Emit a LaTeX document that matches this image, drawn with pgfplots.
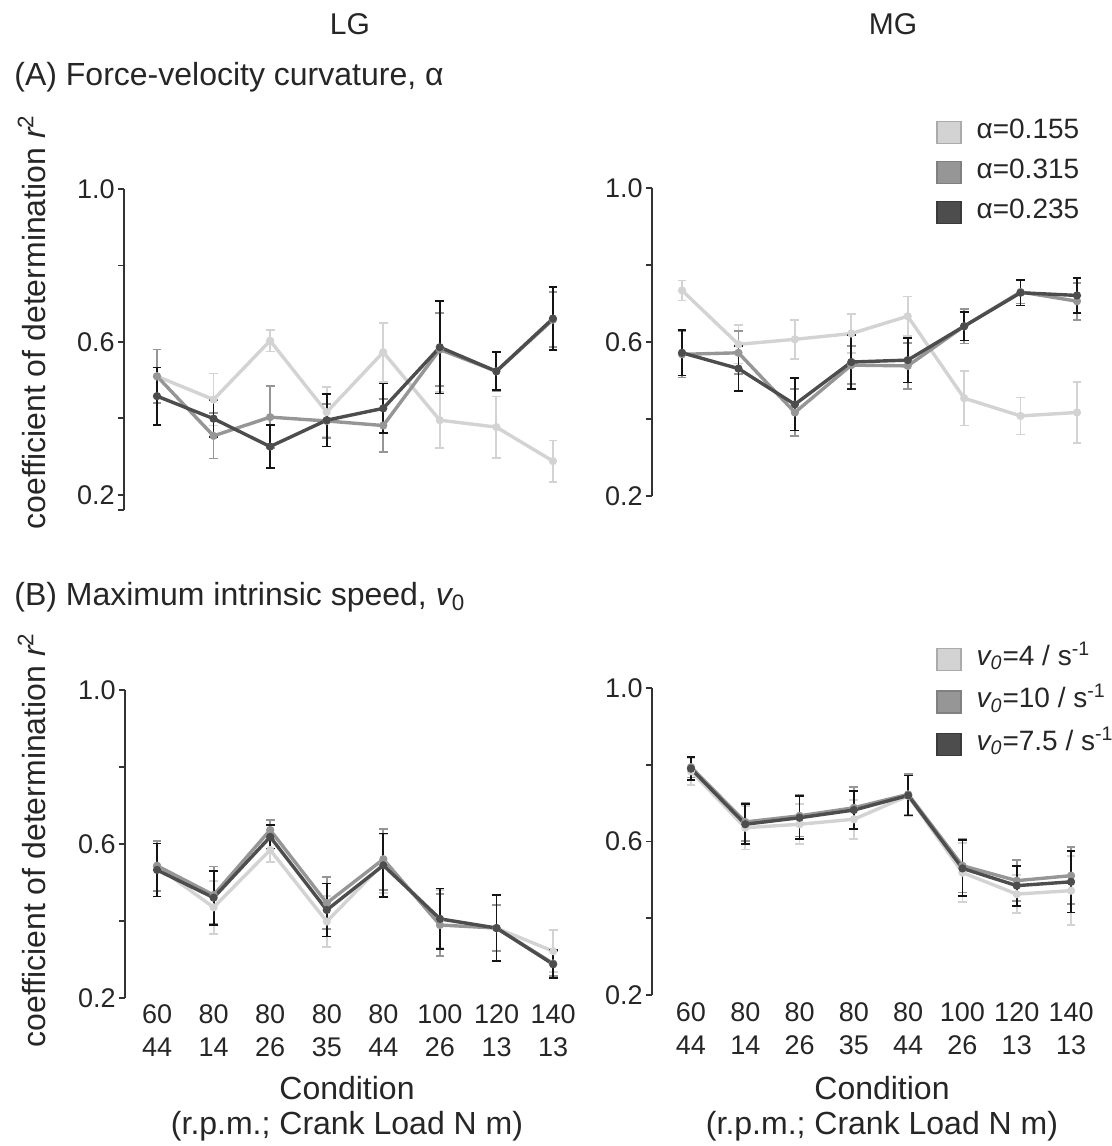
\documentclass[border=0pt]{standalone}
\usepackage{fontspec}
\setmainfont{Liberation Sans}
\usepackage{pgfplots}
\pgfplotsset{compat=1.18}

\definecolor{cL}{HTML}{D3D3D3}
\definecolor{cM}{HTML}{969696}
\definecolor{cD}{HTML}{4D4D4D}
\definecolor{cE}{HTML}{141414}
\definecolor{cLb}{HTML}{ABABAB}
\definecolor{cMb}{HTML}{808080}
\definecolor{cDb}{HTML}{3A3A3A}
\definecolor{axc}{HTML}{333333}
\definecolor{txt}{HTML}{262626}

\newcommand{\tfont}{\fontsize{13.5bp}{16.5bp}\selectfont}
\newcommand{\bfont}{\fontsize{16bp}{17.3bp}\selectfont}

\pgfplotsset{
  panel/.style={
    scale only axis, anchor=south west, clip=false,
    axis y line*=left, axis x line*=bottom,
    x axis line style={draw=none},
    y axis line style={draw=axc, line width=0.8bp, -},
    xtick={1,...,8}, major x tick style={draw=none},
    ytick={0.2,0.4,0.6,0.8,1.0}, yticklabels={0.2,,0.6,,1.0},
    ytick align=outside, major tick length=3bp,
    major y tick style={draw=axc, line width=0.8bp},
    yticklabel style={font=\tfont, text=txt, inner sep=1.5bp},
    xticklabel style={font=\tfont, text=txt, align=center, inner sep=0pt,
      anchor=north, yshift=-3.5bp},
    legend cell align=left,
    legend style={draw=none, fill=none, inner sep=0pt, row sep=8bp,
      column sep=7.5bp, font=\fontsize{14bp}{15bp}\selectfont, text=txt,
      nodes={inner sep=0pt, text height=9bp, text depth=3bp}},
  },
  ser/.style 2 args={color=#1, line width=1.7bp, mark=*, mark size=1.8bp,
    mark options={fill=#1, draw=#1, line width=0.5bp},
    error bars/y dir=both, error bars/y explicit,
    error bars/error bar style={color=#2, line width=0.9bp},
    error bars/error mark options={rotate=90, mark size=2.2bp, line width=0.9bp, color=#2}},
  sq/.style 2 args={legend image code/.code={%
    \draw[fill=#1, draw=#2, line width=0.6bp] (0bp,-5.5bp) rectangle (12bp,5.5bp);}},
}

\begin{document}
\begin{tikzpicture}[every node/.append style={text=txt}]
\useasboundingbox (0,0) rectangle (556bp,-573bp);

% headings
\node[font=\fontsize{15bp}{16bp}\selectfont] at (175bp,-12bp) {LG};
\node[font=\fontsize{15bp}{16bp}\selectfont] at (446.5bp,-12bp) {MG};
\node[font=\bfont, anchor=west, inner sep=0pt] at (7bp,-38.5bp)
  {(A) Force-velocity curvature, α};
\node[font=\bfont, anchor=west, inner sep=0pt] at (7bp,-298.5bp)
  {(B) Maximum intrinsic speed, {\itshape v}\textsubscript{0}};
\node[font=\bfont, rotate=90] at (16bp,-161bp)
  {coefficient of determination {\itshape r}\textsuperscript{2}};
\node[font=\bfont, rotate=90] at (16bp,-420bp)
  {coefficient of determination {\itshape r}\textsuperscript{2}};
\node[font=\bfont, align=center] at (173.5bp,-554.5bp)
  {Condition\\(r.p.m.; Crank Load N m)};
\node[font=\bfont, align=center] at (441bp,-554.5bp)
  {Condition\\(r.p.m.; Crank Load N m)};

% (A) LG
\begin{axis}[panel, at={(62bp,-255bp)}, width=228.6bp, height=160.5bp,
  xmin=0.417, xmax=8.5, ymin=0.16, ymax=1.0, xticklabels={},
  ytick={0.16,0.4,0.6,0.8,1.0}, yticklabels={,,0.6,,1.0},
  extra y ticks={0.2}, extra y tick labels={0.2},
  extra y tick style={major tick style={draw=none}}]
\addplot+[ser={cL}{cL}] coordinates {
  (1,0.510) +- (0,0.070) (2,0.449) +- (0,0.068) (3,0.603) +- (0,0.028) (4,0.416) +- (0,0.065)
  (5,0.573) +- (0,0.077) (6,0.395) +- (0,0.073) (7,0.377) +- (0,0.080) (8,0.288) +- (0,0.054)};
\addplot+[ser={cM}{cM}] coordinates {
  (1,0.510) +- (0,0.070) (2,0.354) +- (0,0.059) (3,0.403) +- (0,0.081) (4,0.393) +- (0,0.045)
  (5,0.381) +- (0,0.070) (6,0.580) +- (0,0.095) (7,0.523) +- (0,0.052) (8,0.658) +- (0,0.072)};
\addplot+[ser={cD}{cE}] coordinates {
  (1,0.458) +- (0,0.075) (2,0.399) +- (0,0.049) (3,0.326) +- (0,0.057) (4,0.395) +- (0,0.069)
  (5,0.426) +- (0,0.065) (6,0.586) +- (0,0.121) (7,0.523) +- (0,0.050) (8,0.661) +- (0,0.082)};
\end{axis}

% (A) MG
\begin{axis}[panel, at={(326bp,-248bp)}, width=226.6bp, height=154bp,
  xmin=0.468, xmax=8.5, ymin=0.2, ymax=1.0, xticklabels={},
  legend style={at={(0.6267,1.2208)}, anchor=north west}]
\addplot+[forget plot, ser={cL}{cL}] coordinates {
  (1,0.734) +- (0,0.026) (2,0.594) +- (0,0.050) (3,0.607) +- (0,0.051) (4,0.622) +- (0,0.050)
  (5,0.667) +- (0,0.051) (6,0.454) +- (0,0.071) (7,0.408) +- (0,0.048) (8,0.417) +- (0,0.079)};
\addplot+[forget plot, ser={cM}{cM}] coordinates {
  (1,0.568) +- (0,0.060) (2,0.572) +- (0,0.056) (3,0.417) +- (0,0.061) (4,0.540) +- (0,0.050)
  (5,0.538) +- (0,0.060) (6,0.641) +- (0,0.045) (7,0.730) +- (0,0.030) (8,0.706) +- (0,0.048)};
\addplot+[forget plot, ser={cD}{cE}] coordinates {
  (1,0.572) +- (0,0.059) (2,0.531) +- (0,0.059) (3,0.438) +- (0,0.068) (4,0.548) +- (0,0.070)
  (5,0.553) +- (0,0.058) (6,0.641) +- (0,0.037) (7,0.728) +- (0,0.033) (8,0.721) +- (0,0.045)};
\addlegendimage{sq={cL}{cLb}}\addlegendentry{α=0.155}
\addlegendimage{sq={cM}{cMb}}\addlegendentry{α=0.315}
\addlegendimage{sq={cD}{cDb}}\addlegendentry{α=0.235}
\end{axis}

% (B) LG
\begin{axis}[panel, at={(62.5bp,-498.85bp)}, width=228.2bp, height=153.9bp,
  xmin=0.434, xmax=8.5, ymin=0.2, ymax=1.0,
  xticklabels={{60\\44},{80\\14},{80\\26},{80\\35},{80\\44},{100\\26},{120\\13},{140\\13}}]
\addplot+[ser={cL}{cL}] coordinates {
  (1,0.541) +- (0,0.065) (2,0.435) +- (0,0.069) (3,0.584) +- (0,0.032) (4,0.398) +- (0,0.067)
  (5,0.549) +- (0,0.076) (6,0.404) +- (0,0.075) (7,0.381) +- (0,0.060) (8,0.321) +- (0,0.055)};
\addplot+[ser={cM}{cM}] coordinates {
  (1,0.543) +- (0,0.065) (2,0.467) +- (0,0.074) (3,0.636) +- (0,0.025) (4,0.446) +- (0,0.067)
  (5,0.560) +- (0,0.079) (6,0.389) +- (0,0.080) (7,0.381) +- (0,0.060) (8,0.289) +- (0,0.032)};
\addplot+[ser={cD}{cE}] coordinates {
  (1,0.532) +- (0,0.069) (2,0.460) +- (0,0.070) (3,0.618) +- (0,0.030) (4,0.428) +- (0,0.069)
  (5,0.544) +- (0,0.083) (6,0.405) +- (0,0.079) (7,0.381) +- (0,0.086) (8,0.287) +- (0,0.036)};
\end{axis}

% (B) MG
\begin{axis}[panel, at={(326bp,-497.5bp)}, width=223.1bp, height=153.5bp,
  xmin=0.282, xmax=8.5, ymin=0.2, ymax=1.0,
  xticklabels={{60\\44},{80\\14},{80\\26},{80\\35},{80\\44},{100\\26},{120\\13},{140\\13}},
  legend style={at={(0.6365,1.1336)}, anchor=north west, row sep=9.25bp}]
\addplot+[forget plot, ser={cL}{cL}] coordinates {
  (1,0.783) +- (0,0.035) (2,0.636) +- (0,0.057) (3,0.645) +- (0,0.052) (4,0.658) +- (0,0.051)
  (5,0.719) +- (0,0.054) (6,0.519) +- (0,0.077) (7,0.463) +- (0,0.049) (8,0.472) +- (0,0.090)};
\addplot+[forget plot, ser={cM}{cM}] coordinates {
  (1,0.794) +- (0,0.027) (2,0.651) +- (0,0.050) (3,0.667) +- (0,0.054) (4,0.688) +- (0,0.054)
  (5,0.723) +- (0,0.053) (6,0.537) +- (0,0.070) (7,0.498) +- (0,0.054) (8,0.511) +- (0,0.074)};
\addplot+[forget plot, ser={cD}{cE}] coordinates {
  (1,0.790) +- (0,0.030) (2,0.645) +- (0,0.052) (3,0.662) +- (0,0.056) (4,0.682) +- (0,0.049)
  (5,0.720) +- (0,0.052) (6,0.530) +- (0,0.073) (7,0.485) +- (0,0.052) (8,0.495) +- (0,0.080)};
\addlegendimage{sq={cL}{cLb}}\addlegendentry{{\itshape v\textsubscript{0}}=4 / s\textsuperscript{-1}}
\addlegendimage{sq={cM}{cMb}}\addlegendentry{{\itshape v\textsubscript{0}}=10 / s\textsuperscript{-1}}
\addlegendimage{sq={cD}{cDb}}\addlegendentry{{\itshape v\textsubscript{0}}=7.5 / s\textsuperscript{-1}}
\end{axis}
\end{tikzpicture}
\end{document}
